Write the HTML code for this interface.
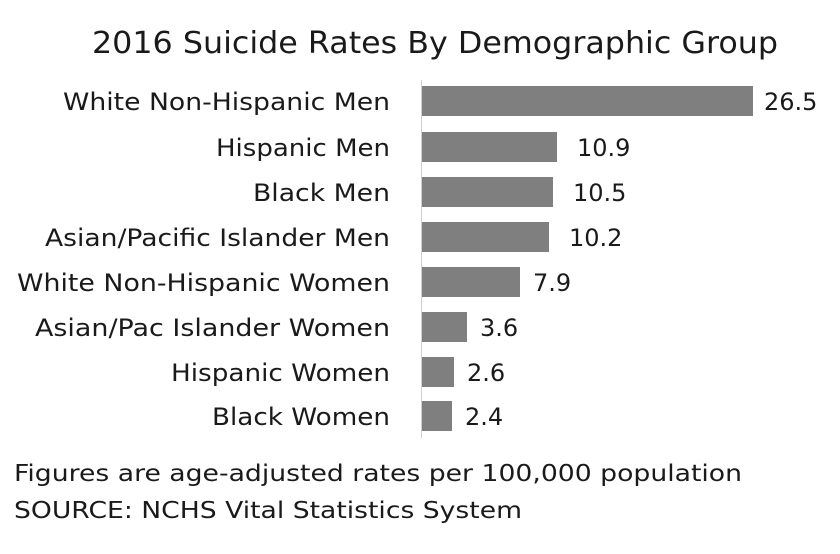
<!DOCTYPE html>
<html><head><meta charset="utf-8"><style>
html,body{margin:0;padding:0;background:#fff;}
svg{display:block;}
text{font-family:"DejaVu Sans","Liberation Sans",sans-serif;fill:#1a1a1a;}
</style></head><body>
<svg width="840" height="554" viewBox="0 0 840 554" xmlns="http://www.w3.org/2000/svg">
<rect width="840" height="554" fill="#fff"/>
<text x="92" y="53" font-size="30" textLength="686" lengthAdjust="spacingAndGlyphs">2016 Suicide Rates By Demographic Group</text>
<line x1="421.5" y1="80" x2="421.5" y2="438" stroke="#d0d0d0" stroke-width="1"/>
<g fill="#7f7f7f">
<rect x="422" y="86" width="331" height="30"/>
<rect x="422" y="132" width="135" height="30"/>
<rect x="422" y="177" width="131" height="30"/>
<rect x="422" y="222" width="127" height="30"/>
<rect x="422" y="267" width="98" height="30"/>
<rect x="422" y="312" width="45" height="30"/>
<rect x="422" y="357" width="32" height="30"/>
<rect x="422" y="401" width="30" height="30"/>
</g>
<g font-size="24" lengthAdjust="spacingAndGlyphs">
<text x="63" y="110" textLength="327" lengthAdjust="spacingAndGlyphs">White Non-Hispanic Men</text>
<text x="216" y="156" textLength="174" lengthAdjust="spacingAndGlyphs">Hispanic Men</text>
<text x="253" y="201" textLength="137" lengthAdjust="spacingAndGlyphs">Black Men</text>
<text x="45" y="246" textLength="345" lengthAdjust="spacingAndGlyphs">Asian/Pacific Islander Men</text>
<text x="17" y="291" textLength="373" lengthAdjust="spacingAndGlyphs">White Non-Hispanic Women</text>
<text x="35" y="336" textLength="355" lengthAdjust="spacingAndGlyphs">Asian/Pac Islander Women</text>
<text x="171" y="381" textLength="219" lengthAdjust="spacingAndGlyphs">Hispanic Women</text>
<text x="212" y="425" textLength="178" lengthAdjust="spacingAndGlyphs">Black Women</text>
</g>
<g font-size="24">
<text x="764" y="110">26.5</text>
<text x="577" y="156">10.9</text>
<text x="573" y="201">10.5</text>
<text x="569" y="246">10.2</text>
<text x="533" y="291">7.9</text>
<text x="480" y="336">3.6</text>
<text x="467" y="381">2.6</text>
<text x="465" y="425">2.4</text>
</g>
<text x="14" y="481" font-size="23" textLength="728" lengthAdjust="spacingAndGlyphs">Figures are age-adjusted rates per 100,000 population</text>
<text x="14" y="518" font-size="23" textLength="508" lengthAdjust="spacingAndGlyphs">SOURCE: NCHS Vital Statistics System</text>
</svg>
</body></html>
